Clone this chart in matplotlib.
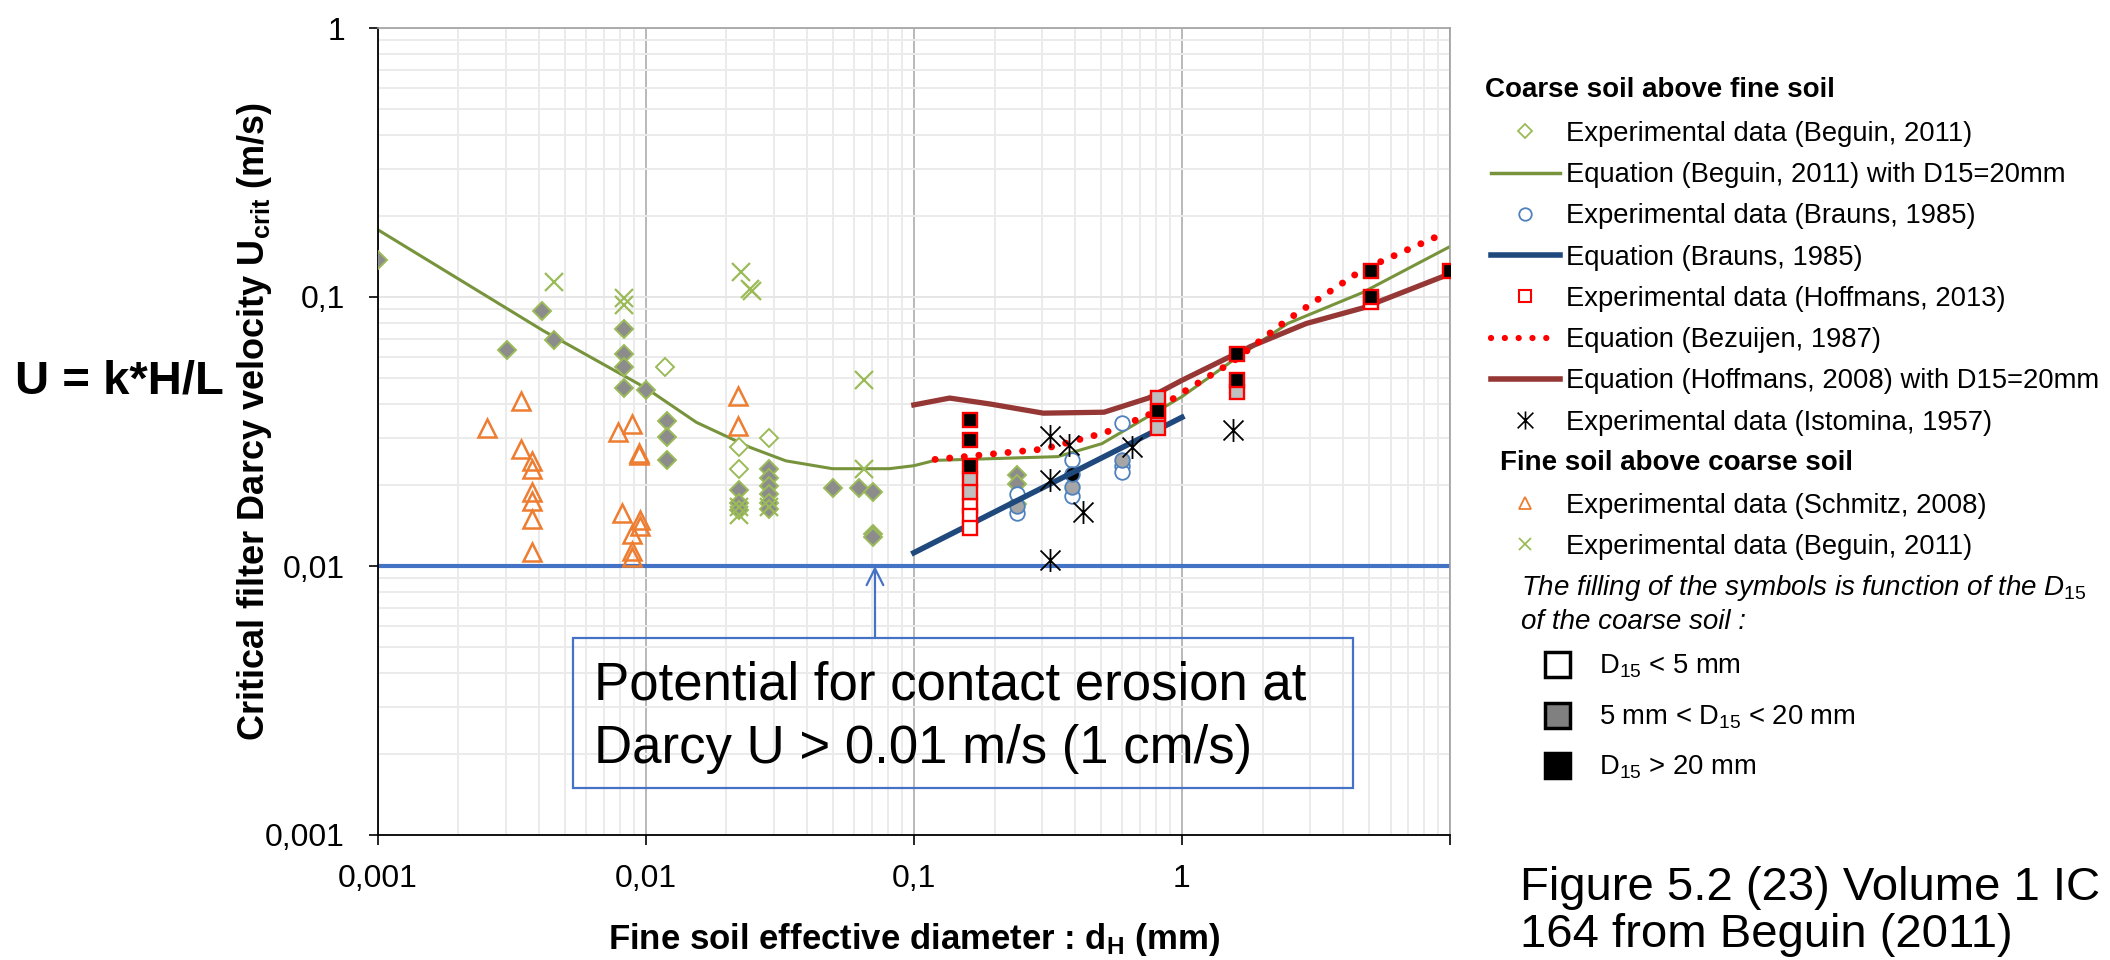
import numpy as np
import matplotlib
matplotlib.use("Agg")
import matplotlib.pyplot as plt
from matplotlib.lines import Line2D
from matplotlib.patches import Rectangle
from matplotlib.path import Path
from matplotlib.ticker import LogLocator, NullFormatter

plt.rcParams['font.family'] = ['Liberation Sans', 'DejaVu Sans']
plt.rcParams['mathtext.fontset'] = 'custom'
plt.rcParams['mathtext.rm'] = 'Liberation Sans'
plt.rcParams['mathtext.it'] = 'Liberation Sans:italic'
plt.rcParams['mathtext.bf'] = 'Liberation Sans:bold'

# ---- data ----
# Beguin 2011, coarse above fine (diamonds); fill: w = D15<5, g = 5-20, k = >20
beguin_x = [0.001, 0.00409, 0.00304, 0.00453, 0.0083, 0.0083, 0.0083, 0.0083, 0.01,
            0.0118, 0.012, 0.012, 0.012, 0.0223, 0.0223, 0.0223, 0.0223, 0.0223,
            0.0288, 0.0288, 0.0288, 0.0288, 0.0288, 0.0288, 0.0288,
            0.0501, 0.0625, 0.0703, 0.0703, 0.0703, 0.242, 0.242, 0.242]
beguin_y = [0.137, 0.0886, 0.0633, 0.069, 0.0759, 0.0613, 0.0547, 0.0459, 0.0451,
            0.055, 0.0345, 0.0302, 0.0248, 0.0276, 0.0229, 0.0192, 0.0171, 0.0162,
            0.0300, 0.0230, 0.0212, 0.0198, 0.0185, 0.0172, 0.0163,
            0.0195, 0.0195, 0.0189, 0.0132, 0.0128, 0.0218, 0.0201, 0.0170]
beguin_fill = ['g', 'g', 'g', 'g', 'g', 'g', 'g', 'g', 'g',
               'w', 'g', 'g', 'g', 'w', 'w', 'g', 'g', 'g',
               'w', 'g', 'g', 'g', 'g', 'g', 'g',
               'g', 'g', 'g', 'g', 'g', 'g', 'g', 'g']

# Beguin 2011, fine above coarse (crosses)
beguin_fa_x = [0.00453, 0.0083, 0.0083, 0.0227, 0.0249, 0.0245, 0.0649, 0.0649, 0.0223, 0.0223, 0.0288]
beguin_fa_y = [0.114, 0.0993, 0.093, 0.124, 0.105, 0.107, 0.0493, 0.0229, 0.0155, 0.0165, 0.0165]

# Schmitz 2008 (triangles)
schmitz_x = [0.00256, 0.00342, 0.00342, 0.00377, 0.00377, 0.00377, 0.00377, 0.00377, 0.00377,
             0.00787, 0.0089, 0.00946, 0.00946, 0.00818, 0.00955, 0.00955, 0.0089, 0.0089, 0.0089,
             0.0221, 0.0221]
schmitz_y = [0.0327, 0.0412, 0.0272, 0.0246, 0.0229, 0.0188, 0.0174, 0.0150, 0.0113,
             0.0315, 0.0338, 0.0258, 0.0262, 0.0158, 0.0148, 0.0141, 0.0131, 0.0114, 0.0108,
             0.043, 0.0331]

# Hoffmans 2013 (squares)
hoff_x = [0.1625, 0.1625, 0.1625, 0.1625, 0.1625, 0.1625, 0.1625, 0.1625,
          0.814, 0.814, 0.814, 0.814, 1.6, 1.6, 1.6, 5.06, 5.06, 5.06, 10.0]
hoff_y = [0.0349, 0.0294, 0.0235, 0.0211, 0.0188, 0.0167, 0.0153, 0.0139,
          0.0420, 0.0378, 0.0364, 0.0325, 0.0616, 0.0490, 0.0445, 0.096, 0.1003, 0.125, 0.125]
hoff_fill = ['k', 'k', 'k', 'g', 'g', 'w', 'w', 'w',
             'g', 'k', 'g', 'g', 'k', 'k', 'g', 'w', 'k', 'k', 'k']

# Brauns 1985 (circles)
brauns_x = [0.242, 0.242, 0.242, 0.388, 0.388, 0.388, 0.388, 0.596, 0.596, 0.596, 0.596]
brauns_y = [0.0186, 0.0158, 0.0167, 0.0248, 0.0219, 0.0197, 0.0182, 0.0341, 0.0248, 0.0235, 0.0224]
brauns_fill = ['w', 'w', 'g', 'w', 'k', 'g', 'w', 'w', 'g', 'w', 'w']

# Istomina 1957 (asterisks)
isto_x = [0.322, 0.322, 0.322, 0.38, 0.427, 0.649, 1.55]
isto_y = [0.0303, 0.0209, 0.0105, 0.0282, 0.0159, 0.0278, 0.0320]

# equations
beg_eq_x = [0.001, 0.00413, 0.01, 0.01545, 0.0245, 0.0333, 0.0497, 0.081, 0.1, 0.12,
            0.344, 0.503, 1.0, 1.59, 2.48, 4.70, 10.0]
beg_eq_y = [0.178, 0.0751, 0.0459, 0.0342, 0.0276, 0.0246, 0.0230, 0.0230, 0.0236, 0.0247,
            0.0255, 0.0285, 0.0426, 0.0592, 0.0797, 0.1037, 0.154]
brauns_eq_x = [0.1, 1.0]
brauns_eq_y = [0.0112, 0.0357]
bez_eq_x = [0.12, 0.304, 0.516, 0.748, 1.0, 1.54, 2.48, 4.70, 9.33]
bez_eq_y = [0.0249, 0.0272, 0.0313, 0.0364, 0.044, 0.0573, 0.0824, 0.126, 0.171]
hof_eq_x = [0.1, 0.136, 0.193, 0.304, 0.512, 0.75, 1.0, 1.80, 2.91, 4.70, 10.0]
hof_eq_y = [0.0397, 0.0421, 0.0400, 0.0370, 0.0373, 0.0421, 0.0490, 0.0654, 0.0797, 0.0909, 0.122]

threshold = 0.01
arrow_x = 0.0716

x_ticks = [0.001, 0.01, 0.1, 1, 10]
x_ticklabels = ['0,001', '0,01', '0,1', '1', '']
y_ticks = [0.001, 0.01, 0.1, 1]
y_ticklabels = ['0,001', '0,01', '0,1', '1']

# ---- colours ----
green_pt = '#9BBB59'
green_ln = '#77933C'
orange = '#ED7D31'
blue_pt = '#4F81BD'
navy = '#1F497D'
brown = '#953735'
thr_blue = '#4472C4'
fills_pt = {'w': 'white', 'g': '#8C8C8C', 'k': 'black'}
fills_sq = {'w': 'white', 'g': '#BFBFBF', 'k': 'black'}
fills_ci = {'w': 'white', 'g': '#A6A6A6', 'k': 'black'}

# asterisk: vertical bar + X
star = Path([(0, -1), (0, 1), (-0.87, -0.87), (0.87, 0.87), (-0.87, 0.87), (0.87, -0.87)],
            [Path.MOVETO, Path.LINETO] * 3)

W, H = 2110, 960
fx = lambda p: p / W
fy = lambda p: 1 - p / H

fig = plt.figure(figsize=(21.1, 9.6), dpi=100)
ax = fig.add_axes([fx(377.7), fy(835), (1450 - 377.7) / W, (835 - 28) / H])
ax.set_xscale('log')
ax.set_yscale('log')
ax.set_xlim(0.001, 10)
ax.set_ylim(0.001, 1)

ax.xaxis.set_minor_locator(LogLocator(base=10, subs=np.arange(2, 10)))
ax.yaxis.set_minor_locator(LogLocator(base=10, subs=np.arange(2, 10)))
ax.xaxis.set_minor_formatter(NullFormatter())
ax.yaxis.set_minor_formatter(NullFormatter())
ax.set_xticks(x_ticks)
ax.set_xticklabels(x_ticklabels)
ax.set_yticks(y_ticks)
ax.set_yticklabels(y_ticklabels)
ax.tick_params(which='minor', length=0)
ax.tick_params(axis='x', which='major', length=7, width=1.2, labelsize=23, pad=14, color='black')
ax.tick_params(axis='y', which='major', length=6.5, width=1.2, labelsize=23, pad=17, color='black')

ax.grid(which='minor', color='#EBEBEB', lw=1.4)
ax.grid(which='major', axis='y', color='#E6E6E6', lw=1.4)
ax.grid(which='major', axis='x', color='#A6A6A6', lw=1.1)
ax.set_axisbelow(True)
for s in ['top', 'right']:
    ax.spines[s].set_color('#A0A0A0')
    ax.spines[s].set_linewidth(1.2)
for s in ['left', 'bottom']:
    ax.spines[s].set_color('black')
    ax.spines[s].set_linewidth(1.3)

# threshold line
ax.axhline(threshold, color=thr_blue, lw=3, zorder=2)

# equation curves
ax.plot(beg_eq_x, beg_eq_y, color=green_ln, lw=2.2, zorder=2)
ax.plot(hof_eq_x, hof_eq_y, color=brown, lw=3.8, zorder=2)
ax.plot(bez_eq_x, bez_eq_y, color='red', lw=5, ls=(0, (0.01, 2.1)),
        dash_capstyle='round', zorder=2)

# experimental data
bx, by, bf = np.array(beguin_x), np.array(beguin_y), np.array(beguin_fill)
for f in ['w', 'g']:
    m = bf == f
    ax.plot(bx[m], by[m], ls='none', marker='D', ms=9, mfc=fills_pt[f], mec=green_pt, mew=1.4, zorder=3)
ax.plot(beguin_fa_x, beguin_fa_y, ls='none', marker='x', ms=13, mec=green_pt, mew=1.6, zorder=3)
ax.plot(schmitz_x, schmitz_y, ls='none', marker='^', ms=13, mfc='none', mec=orange, mew=1.8, zorder=3)

cx, cy, cf = np.array(brauns_x), np.array(brauns_y), np.array(brauns_fill)
for f in ['w', 'g', 'k']:
    m = cf == f
    ax.plot(cx[m], cy[m], ls='none', marker='o', ms=10.5, mfc=fills_ci[f], mec=blue_pt, mew=1.3, zorder=3)
ax.plot(brauns_eq_x, brauns_eq_y, color=navy, lw=4, zorder=3)

hx, hy, hf = np.array(hoff_x), np.array(hoff_y), np.array(hoff_fill)
for f in ['w', 'g', 'k']:
    m = hf == f
    ax.plot(hx[m], hy[m], ls='none', marker='s', ms=10.5, mfc=fills_sq[f], mec='red', mew=1.7, zorder=4)
ax.plot(isto_x, isto_y, ls='none', marker=star, ms=16.5, mec='black', mew=1.3, zorder=4)

# axis labels
ax.set_ylabel(r'Critical filter Darcy velocity U$_{\mathbf{crit}}$ (m/s)', fontsize=26,
              fontweight='bold', va='center')
ax.yaxis.set_label_coords((255 - 377.7) / 1072.3, (835 - 421) / 807)
ax.set_xlabel(r'Fine soil effective diameter : d$_{\mathbf{H}}$ (mm)', fontsize=25,
              fontweight='bold', va='center')
ax.xaxis.set_label_coords(0.5, (835 - 940) / 807)

fig.text(fx(15), fy(381), 'U = k*H/L', fontsize=34, fontweight='bold', va='center', ha='left')

# annotation box + arrow
fig.patches.append(Rectangle((fx(573), fy(788)), (1353 - 573) / W, (788 - 638) / H,
                             transform=fig.transFigure, fill=False, ec=thr_blue, lw=1.6))
fig.text(fx(594), fy(700), 'Potential for contact erosion at', fontsize=38, va='baseline')
fig.text(fx(594), fy(763), 'Darcy U > 0.01 m/s (1 cm/s)', fontsize=38, va='baseline')
ax.annotate('', xy=(arrow_x, threshold), xycoords='data',
            xytext=(fx(875), fy(638)), textcoords='figure fraction',
            arrowprops=dict(arrowstyle='->', color=thr_blue, lw=1.6, shrinkA=0, shrinkB=0,
                            mutation_scale=30))

# legend, group 1
fig.text(fx(1485), fy(90), 'Coarse soil above fine soil', fontsize=20, fontweight='bold', va='center')
h1 = [Line2D([], [], ls='none', marker='D', ms=7, mfc='white', mec=green_pt, mew=1.3),
      Line2D([], [], color=green_ln, lw=2.5),
      Line2D([], [], ls='none', marker='o', ms=9, mfc='white', mec=blue_pt, mew=1.3),
      Line2D([], [], color=navy, lw=4),
      Line2D([], [], ls='none', marker='s', ms=8, mfc='white', mec='red', mew=1.5),
      Line2D([], [], color='red', lw=4.5, ls=(0, (0.01, 2.2)), dash_capstyle='round'),
      Line2D([], [], color=brown, lw=4),
      Line2D([], [], ls='none', marker=star, ms=13, mec='black', mew=1.2)]
l1 = ['Experimental data (Beguin, 2011)',
      'Equation (Beguin, 2011) with D15=20mm',
      'Experimental data (Brauns, 1985)',
      'Equation (Brauns, 1985)',
      'Experimental data (Hoffmans, 2013)',
      'Equation (Bezuijen, 1987)',
      'Equation (Hoffmans, 2008) with D15=20mm',
      'Experimental data (Istomina, 1957)']
fig.legend(h1, l1, loc='upper left', bbox_to_anchor=(fx(1491), fy(121)), frameon=False,
           fontsize=19.7, handlelength=2.52, handletextpad=0.22, labelspacing=0.557,
           borderpad=0, borderaxespad=0)

# legend, group 2
fig.text(fx(1500), fy(463), 'Fine soil above coarse soil', fontsize=20, fontweight='bold', va='center')
h2 = [Line2D([], [], ls='none', marker='^', ms=8, mfc='none', mec=orange, mew=1.3),
      Line2D([], [], ls='none', marker='x', ms=8, mec=green_pt, mew=1.3)]
l2 = ['Experimental data (Schmitz, 2008)', 'Experimental data (Beguin, 2011)']
fig.legend(h2, l2, loc='upper left', bbox_to_anchor=(fx(1491), fy(493)), frameon=False,
           fontsize=19.7, handlelength=2.52, handletextpad=0.22, labelspacing=0.54,
           borderpad=0, borderaxespad=0)

fig.text(fx(1521), fy(588), r'The filling of the symbols is function of the $\mathit{D}_{\mathit{15}}$',
         fontsize=20, style='italic', va='center')
fig.text(fx(1521), fy(622), 'of the coarse soil :', fontsize=20, style='italic', va='center')

h3 = [Line2D([], [], ls='none', marker='s', ms=18, mfc=c, mec='black', mew=2.5)
      for c in ['white', '#808080', 'black']]
l3 = [r'D$_{\mathrm{15}}$ < 5 mm', r'5 mm < D$_{\mathrm{15}}$ < 20 mm', r'D$_{\mathrm{15}}$ > 20 mm']
fig.legend(h3, l3, loc='upper left', bbox_to_anchor=(fx(1541), fy(653)), frameon=False,
           fontsize=19.7, handlelength=1.2, handletextpad=0.93, labelspacing=0.84,
           borderpad=0, borderaxespad=0)

# caption
fig.text(fx(1520), fy(900), 'Figure 5.2 (23) Volume 1 IC', fontsize=34, va='baseline')
fig.text(fx(1520), fy(947), '164 from Beguin (2011)', fontsize=34, va='baseline')

fig.savefig('out.png', dpi=100)
